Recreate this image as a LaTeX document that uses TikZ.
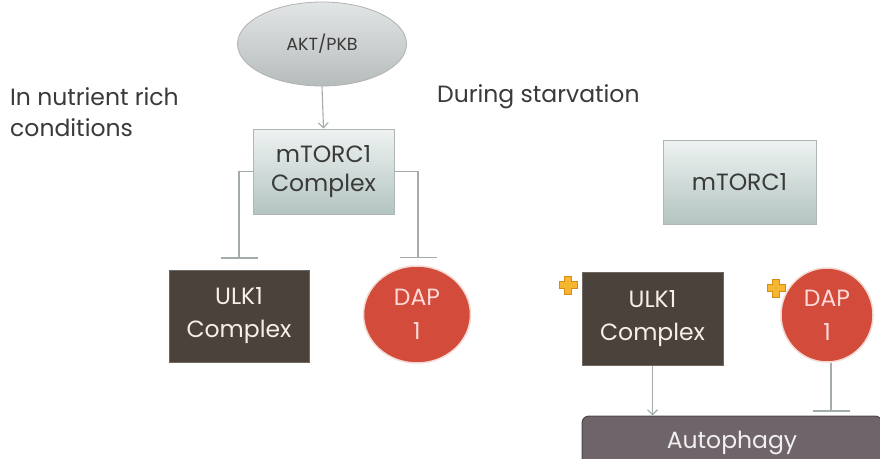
\documentclass[tikz,border=0pt]{standalone}
\usepackage{fontspec}
\setmainfont{Poppins}
\usetikzlibrary{shapes.geometric,arrows.meta,calc}
\definecolor{txt}{HTML}{3A3A3A}
\definecolor{linegray}{HTML}{A3ACAB}
\definecolor{ulkfill}{HTML}{4B433B}
\definecolor{ulkedge}{HTML}{6E6760}
\definecolor{dapfill}{HTML}{D24B3B}
\definecolor{dapedge}{HTML}{F3D9D2}
\definecolor{autofill}{HTML}{6E6469}
\definecolor{autoedge}{HTML}{4F474B}
\definecolor{mtop}{HTML}{EEF3F2}
\definecolor{mbot}{HTML}{B3C4C0}
\definecolor{mtedge}{HTML}{AEB7B5}
\definecolor{etop}{HTML}{E2E5E5}
\definecolor{ebot}{HTML}{B6BCBC}
\definecolor{plusfill}{HTML}{F5B630}
\definecolor{plusedge}{HTML}{D98A12}
\tikzset{
  label/.style={text=txt, font=\fontsize{23.5}{31}\selectfont, align=left, anchor=west, inner sep=0pt},
  mtorbox/.style={draw=mtedge, line width=1pt, top color=mtop, bottom color=mbot, text=txt,
    align=center, font=\fontsize{23.5}{29}\selectfont, inner sep=0pt},
  ulkbox/.style={draw=ulkedge, line width=1pt, fill=ulkfill, text=white!88!brown,
    align=center, font=\fontsize{23.5}{33}\selectfont, inner sep=0pt,
    minimum width=140pt, minimum height=92pt},
  dapnode/.style={ellipse, draw=dapedge, line width=1.5pt, fill=dapfill, text=white!85!red,
    align=center, font=\fontsize{23.5}{34}\selectfont, inner sep=0pt},
  aktnode/.style={ellipse, draw=gray!60, line width=0.8pt, top color=etop, bottom color=ebot,
    text=txt, font=\fontsize{17.5}{20}\selectfont, inner sep=0pt,
    minimum width=169pt, minimum height=84pt},
  autonode/.style={rounded corners=7pt, draw=autoedge, line width=1pt, fill=autofill,
    text=white!88!gray, font=\fontsize{23.5}{26}\selectfont, inner sep=0pt,
    minimum width=300pt, minimum height=54pt},
  act/.style={draw=linegray, line width=1.1pt, -{Straight Barb[length=5pt,width=10pt]}},
  inh/.style={draw=linegray, line width=1.1pt, -{Bar[width=37pt,line width=1.3pt]}},
  plussign/.style={fill=plusfill, draw=plusedge, line width=0.7pt},
}
\begin{document}
\begin{tikzpicture}[x=1pt,y=-1pt]
\useasboundingbox[fill=white] (0,0) rectangle (880,458);

% titles
\node[label] (rich) at (10,112) {In nutrient rich\\conditions};
\node[label] (starv) at (437,97) {During starvation};

% left side
\node[aktnode] (akt) at (322,44) {AKT/PKB};
\node[mtorbox, minimum width=141pt, minimum height=85pt] (mc) at (323.5,171.5) {mTORC1\\Complex};
\node[ulkbox] (ulk) at (239,316) {ULK1\\Complex};
\node[dapnode, minimum width=107pt, minimum height=97pt] (dap) at (417,314.5) {DAP\\1};

\draw[act] (akt.south) -- (mc.north);
\draw[inh] (mc.west) -| ([yshift=11pt]ulk.north);
\draw[inh] (mc.east) -| ([xshift=1pt,yshift=7pt]dap.north);

% right side
\node[mtorbox, minimum width=153pt, minimum height=84pt] (m2) at (739.5,182) {mTORC1};
\node[ulkbox, minimum width=141pt, minimum height=93pt] (ulk2) at (652.5,318.5) {ULK1\\Complex};
\node[dapnode, minimum width=92pt, minimum height=94pt] (dap2) at (827,315) {DAP\\1};
\node[autonode] (auto) at (732,443) {Autophagy};

\draw[act] (ulk2.south) -- (ulk2.south |- auto.north);
\coordinate (d2s) at ([xshift=4pt]dap2.south);
\draw[inh] (d2s) -- ([yshift=4pt]d2s |- auto.north);

% plus signs
\foreach \n/\cx/\cy in {p1/568/285, p2/776/288}{
  \path[plussign] (\cx-3.5,\cy-9) -- (\cx+3.5,\cy-9) -- (\cx+3.5,\cy-3.5) -- (\cx+9,\cy-3.5) -- (\cx+9,\cy+3.5)
    -- (\cx+3.5,\cy+3.5) -- (\cx+3.5,\cy+9) -- (\cx-3.5,\cy+9) -- (\cx-3.5,\cy+3.5) -- (\cx-9,\cy+3.5)
    -- (\cx-9,\cy-3.5) -- (\cx-3.5,\cy-3.5) -- cycle;
}
\end{tikzpicture}
\end{document}
